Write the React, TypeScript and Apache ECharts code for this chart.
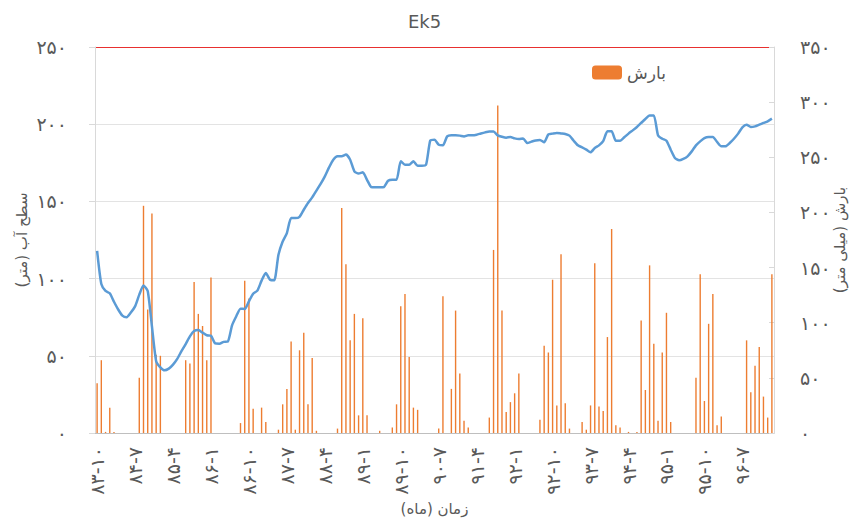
import React, { useEffect, useRef } from "react";
import * as echarts from "echarts";

// Month categories (Persian calendar, YY-M), starting 83-10, 161 months
const START_YEAR = 83;
const START_MONTH = 10;
const MONTH_COUNT = 161;
const categories: string[] = (() => {
  const out: string[] = [];
  let y = START_YEAR;
  let m = START_MONTH;
  for (let k = 0; k < MONTH_COUNT; k++) {
    out.push(`${y}-${m}`);
    m++;
    if (m > 12) {
      m = 1;
      y++;
    }
  }
  return out;
})();

// Water level (m) – left axis
const waterLevel: number[] = [
  118, 96.5, 92, 90.5, 85, 80, 76, 75, 78, 82,
  89.6, 95.6, 92, 69, 46.5, 42.5, 40.6, 41.7, 44.3, 48,
  53, 57.6, 62.6, 66, 66.7, 65, 63.3, 63, 58, 57.8,
  59, 59.2, 69.7, 75.6, 80.5, 80.3, 85.3, 90.2, 92.2, 98.7,
  103.6, 99.3, 98.9, 115.5, 124, 129.5, 139.2, 139.2, 140, 144.6,
  149, 152.6, 157, 161.3, 166.2, 172, 177, 179.2, 179.2, 180.3,
  177, 169.5, 168, 168.8, 164, 159.3, 159.1, 159.1, 159.3, 163.4,
  164, 164, 176, 173.8, 173.8, 176, 173.1, 173.1, 173.8, 189.5,
  190, 186.7, 186.3, 192.1, 192.8, 192.8, 192.6, 192.1, 192.8, 192.8,
  193.2, 194, 194.7, 195.2, 195.2, 192.8, 191.9, 191.3, 191.7, 190.8,
  190.4, 190.8, 187.8, 188.7, 189.5, 189.8, 188.3, 193.4, 193.9, 194.3,
  194, 193.7, 192.6, 189.3, 186.3, 185, 183.5, 181.8, 184.6, 186.3,
  189, 195.4, 195.4, 189.3, 189.3, 191.5, 193.9, 196, 198.2, 200.8,
  203.4, 205.7, 205.7, 192.8, 190.6, 189.3, 183.5, 178.1, 176.6, 177.5,
  179.2, 182.4, 186.3, 188.9, 191, 191.7, 191.7, 188.5, 185.7, 185.7,
  187.8, 190.6, 193.9, 198, 199.7, 198.2, 198.6, 199.7, 200.8, 201.9,
  203.6,
];

// Precipitation (mm) – right axis
const rainfall: number[] = [
  45, 66, 1, 23, 1, 0, 0, 0, 0, 0,
  50, 206, 112, 199, 71, 70, 0, 0, 0, 0,
  0, 66, 63, 137, 108, 97, 66, 141, 0, 0,
  0, 0, 0, 0, 9, 138, 122, 22, 0, 23,
  10, 0, 0, 3, 26, 40, 83, 3, 75, 91,
  26, 68, 2, 0, 0, 0, 0, 4, 204, 153,
  84, 108, 16, 104, 16, 0, 0, 2, 0, 0,
  5, 26, 115, 126, 69, 23, 21, 0, 0, 0,
  0, 4, 124, 0, 40, 111, 54, 11, 5, 0,
  0, 0, 0, 14, 166, 297, 111, 19, 28, 36,
  54, 0, 0, 0, 0, 12, 79, 73, 139, 25,
  162, 27, 4, 0, 0, 10, 3, 25, 154, 24,
  20, 87, 185, 7, 5, 0, 1, 0, 1, 102,
  39, 152, 81, 11, 73, 109, 10, 0, 0, 0,
  0, 0, 50, 144, 29, 99, 126, 7, 15, 0,
  0, 0, 0, 0, 84, 37, 61, 78, 33, 14,
  144,
];

const LEFT_MAX = 250;
const RIGHT_MAX = 350;
const TICK_STEP = 50;

const TITLE = "Ek5";
const RAIN_NAME = "بارش";
const LEVEL_NAME = "سطح آب";
const LEFT_AXIS_NAME = "سطح آب (متر)";
const RIGHT_AXIS_NAME = "بارش (میلی متر)";
const X_AXIS_NAME = "زمان (ماه)";

const FA_DIGITS = ["۰", "۱", "۲", "۳", "۴", "۵", "۶", "۷", "۸", "۹"];
const toFa = (v: string | number) =>
  String(v).replace(/[0-9]/g, (d) => FA_DIGITS[Number(d)]);

const TEXT = "#595959";
const FONT = '"DejaVu Sans", "Noto Sans", sans-serif';
const GRID_GRAY = "#e3e3e3";
const TOP_RED = "#E8302F";

export default function App() {
  const ref = useRef<HTMLDivElement>(null);

  useEffect(() => {
    if (!ref.current) return;
    const chart = echarts.init(ref.current, undefined, { renderer: "svg" });
    chart.setOption({
      animation: false,
      textStyle: { fontFamily: FONT },
      title: {
        text: TITLE,
        left: "center",
        top: 7,
        textStyle: { fontSize: 18, fontWeight: "normal", color: TEXT, fontFamily: FONT },
      },
      legend: {
        data: [RAIN_NAME],
        left: 587,
        top: 59,
        itemWidth: 30,
        itemHeight: 14,
        itemGap: 6,
        textStyle: { fontSize: 17, color: TEXT, fontFamily: FONT },
      },
      grid: {
        left: 95,
        right: 75,
        top: 47,
        bottom: 88,
        containLabel: false,
        outerBoundsMode: "none",
      },
      xAxis: {
        type: "category",
        data: categories,
        boundaryGap: true,
        axisLine: { show: true, lineStyle: { color: "#bfbfbf", width: 1 } },
        axisTick: { show: false },
        axisLabel: {
          interval: 8,
          rotate: 90,
          margin: 14,
          fontSize: 19,
          color: TEXT,
          fontFamily: FONT,
          formatter: (v: string) => toFa(v),
        },
        splitLine: { show: false },
        name: X_AXIS_NAME,
        nameLocation: "middle",
        nameGap: 68,
        nameMoveOverlap: false,
        nameTextStyle: { fontSize: 15, color: TEXT, fontFamily: FONT },
      },
      yAxis: [
        {
          type: "value",
          position: "left",
          min: 0,
          max: LEFT_MAX,
          interval: TICK_STEP,
          axisLine: { show: true, lineStyle: { color: "#d9d9d9" } },
          axisTick: { show: true, length: 6, lineStyle: { color: "#d9d9d9" } },
          axisLabel: {
            margin: 28,
            fontSize: 19,
            color: TEXT,
            fontFamily: FONT,
            formatter: (v: number) => toFa(v),
          },
          splitLine: {
            show: true,
            showMinLine: true,
            showMaxLine: true,
            lineStyle: {
              color: [GRID_GRAY, GRID_GRAY, GRID_GRAY, GRID_GRAY, GRID_GRAY, TOP_RED],
              width: 1.2,
            },
          },
          name: LEFT_AXIS_NAME,
          nameLocation: "middle",
          nameRotate: 90,
          nameGap: 66,
          nameMoveOverlap: false,
          nameTextStyle: { fontSize: 15, color: TEXT, fontFamily: FONT },
        },
        {
          type: "value",
          position: "right",
          min: 0,
          max: RIGHT_MAX,
          interval: TICK_STEP,
          axisLine: { show: true, lineStyle: { color: "#d9d9d9" } },
          axisTick: { show: true, inside: true, length: 5, lineStyle: { color: "#d9d9d9" } },
          axisLabel: {
            margin: 26,
            fontSize: 19,
            color: TEXT,
            fontFamily: FONT,
            formatter: (v: number) => toFa(v),
          },
          splitLine: { show: false },
          name: RIGHT_AXIS_NAME,
          nameLocation: "middle",
          nameRotate: 90,
          nameGap: 58,
          nameMoveOverlap: false,
          nameTextStyle: { fontSize: 15, color: TEXT, fontFamily: FONT },
        },
      ],
      series: [
        {
          name: RAIN_NAME,
          type: "bar",
          yAxisIndex: 1,
          data: rainfall,
          barWidth: 1.4,
          itemStyle: { color: "#ED7D31" },
        },
        {
          name: LEVEL_NAME,
          type: "line",
          yAxisIndex: 0,
          data: waterLevel,
          symbol: "none",
          smooth: 0.2,
          lineStyle: { color: "#5B9BD5", width: 2.5 },
        },
      ],
    });
    return () => chart.dispose();
  }, []);

  return (
    <div
      ref={ref}
      style={{ position: "fixed", left: 0, top: 0, width: 849, height: 521, background: "#fff" }}
    />
  );
}
